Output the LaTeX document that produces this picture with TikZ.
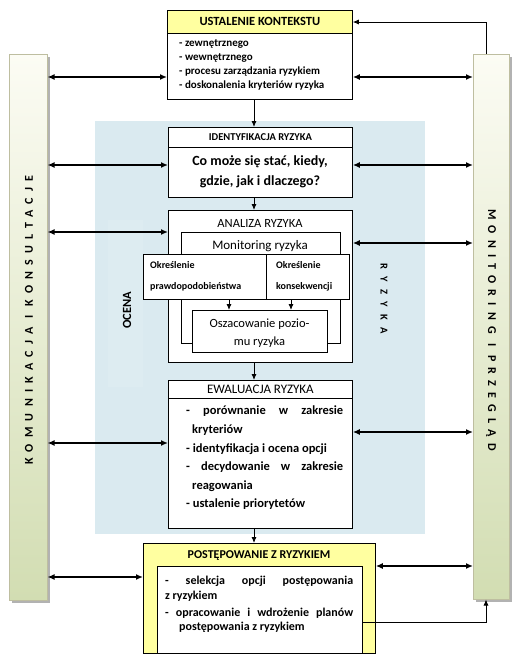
\documentclass[tikz,border=0pt]{standalone}
\usepackage{fontspec}
\setmainfont{Carlito}
\usetikzlibrary{arrows.meta,calc}
\definecolor{hdryellow}{RGB}{255,255,160}
\definecolor{zone}{RGB}{218,234,240}
\definecolor{zonelight}{RGB}{221,236,241}
\definecolor{bartop}{RGB}{252,252,244}
\definecolor{barbot}{RGB}{210,221,178}
\definecolor{barline}{RGB}{190,190,160}
\begin{document}
\begin{tikzpicture}[x=1pt,y=-1pt]
\tikzset{
 box/.style={draw=black, line width=0.8pt, fill=white, inner sep=0, anchor=north west},
 dbl/.style={line width=1.8pt, {Latex[length=7pt,width=6pt]}-{Latex[length=7pt,width=6pt]}},
 vline/.style={line width=0.9pt, -{Latex[length=6pt,width=5pt]}},
 fbline/.style={line width=0.8pt, -{Latex[length=6pt,width=5pt]}},
 bar/.style={draw=barline, line width=0.5pt, top color=bartop, bottom color=barbot, anchor=north west, inner sep=0},
 shadowbox/.style={fill=black!30, anchor=north west, inner sep=0},
 plain/.style={inner sep=0},
}
\useasboundingbox (0,0) rectangle (522,657);
% side bars
\node[shadowbox, minimum width=38pt, minimum height=546pt] (lbarsh) at (11.5,56.5) {};
\node[bar, minimum width=38pt, minimum height=546pt] (lbar) at (9,54) {};
\node[shadowbox, minimum width=36pt, minimum height=545pt] (rbarsh) at (475.5,56.5) {};
\node[bar, minimum width=36pt, minimum height=545pt] (rbar) at (473,54) {};
\node[rotate=90, plain, font=\bfseries\fontsize{12}{13}\selectfont\addfontfeature{LetterSpace=52}] (komtxt) at (29,320) {KOMUNIKACJA I KONSULTACJE};
\node[rotate=-90, plain, font=\bfseries\fontsize{12}{13}\selectfont\addfontfeature{LetterSpace=52}] (montxt) at (491,330) {MONITORING I PRZEGLĄD};
% blue zone
\node[fill=zone, anchor=north west, inner sep=0, minimum width=330pt, minimum height=413pt] (zonebox) at (95,121) {};
\node[fill=zonelight, anchor=north west, inner sep=0, minimum width=35pt, minimum height=167pt] (ocpanel) at (108,220) {};
\node[rotate=90, plain, font=\bfseries\fontsize{12.5}{14}\selectfont] (ocena) at (127,310) {OCENA};
\node[rotate=-90, plain, font=\bfseries\fontsize{10.5}{12}\selectfont\addfontfeature{LetterSpace=70}] (ryztxt) at (384,299) {RYZYKA};
% context box
\node[box, minimum width=185pt, minimum height=89pt] (ctx) at (167,10) {};
\node[box, fill=hdryellow, minimum width=185pt, minimum height=23pt, font=\bfseries\fontsize{12.5}{14}\selectfont] (ctxhd) at (167,10) {USTALENIE KONTEKSTU};
\node[plain, anchor=north west, align=left, font=\bfseries\fontsize{11}{14}\selectfont] (ctxtxt) at (179,39.5) {- zewnętrznego\\- wewnętrznego\\- procesu zarządzania ryzykiem\\- doskonalenia kryteriów ryzyka};
% identification
\node[box, minimum width=184pt, minimum height=70pt] (ident) at (168,127) {};
\node[box, minimum width=184pt, minimum height=20pt, font=\bfseries\fontsize{10.5}{12}\selectfont] (identhd) at (168,127) {IDENTYFIKACJA RYZYKA};
\node[plain, align=center, font=\bfseries\fontsize{14}{20}\selectfont] (identtxt) at (260,172) {Co może się stać, kiedy,\\gdzie, jak i dlaczego?};
% analysis
\node[box, minimum width=184pt, minimum height=152pt] (anal) at (168,210) {};
\node[plain, font=\fontsize{12.5}{14}\selectfont] (analtxt) at (260,223) {ANALIZA RYZYKA};
\node[box, minimum width=159pt, minimum height=111pt] (mon) at (181,232) {};
\node[plain, font=\fontsize{13}{15}\selectfont] (montxt2) at (260,246) {Monitoring ryzyka};
\node[box, minimum width=123pt, minimum height=45pt] (okl) at (143,254) {};
\node[box, minimum width=83pt, minimum height=45pt] (okr) at (266,254) {};
\node[plain, anchor=north west, align=left, font=\bfseries\fontsize{10}{21}\selectfont] (okltxt) at (150,261) {Określenie\\prawdopodobieństwa};
\node[plain, anchor=north west, align=left, font=\bfseries\fontsize{10}{21}\selectfont] (okrtxt) at (276,261) {Określenie\\konsekwencji};
\node[box, minimum width=135pt, minimum height=42pt] (osz) at (192,310) {};
\node[plain, align=center, font=\fontsize{12.5}{18}\selectfont] (osztxt) at (259.5,333) {Oszacowanie pozio-\\mu ryzyka};
% evaluation
\node[box, minimum width=184pt, minimum height=148pt] (ewal) at (168,380) {};
\node[box, minimum width=184pt, minimum height=18pt, font=\fontsize{13}{14}\selectfont] (ewalhd) at (168,380) {EWALUACJA RYZYKA};
\node[plain, anchor=north west, align=left, font=\bfseries\fontsize{12.5}{18.6}\selectfont] (ewaltxt) at (186,406) {\hbox to 157pt{-\hfill porównanie\hfill w\hfill zakresie}\\\hspace*{6pt}kryteriów\\- identyfikacja i ocena opcji\\\hbox to 157pt{-\hfill decydowanie\hfill w\hfill zakresie}\\\hspace*{6pt}reagowania\\- ustalenie priorytetów};
% treatment
\node[box, fill=hdryellow, minimum width=232pt, minimum height=110pt] (post) at (143,543) {};
\node[plain, font=\bfseries\fontsize{12}{14}\selectfont] (posthd) at (259,556) {POSTĘPOWANIE Z RYZYKIEM};
\node[box, minimum width=205pt, minimum height=87pt] (postin) at (157,566) {};
\node[plain, anchor=north west, align=left, font=\bfseries\fontsize{12}{14.5}\selectfont] (posttxt) at (165,576) {\hbox to 188pt{-\hfill selekcja\hfill opcji\hfill postępowania}\\z ryzykiem\\[2.5pt]\hbox to 188pt{-\hfill opracowanie\hfill i\hfill wdrożenie\hfill planów}\\\hspace*{14pt}postępowania z ryzykiem};
% helper coordinates
\coordinate (ya) at (0,77);
\coordinate (yb) at (0,165);
\coordinate (ycl) at (0,232);
\coordinate (ycr) at (0,243);
\coordinate (ydl) at (0,443);
\coordinate (ydr) at (0,432);
\coordinate (yel) at (0,577);
\coordinate (yer) at (0,566);
\coordinate (ytop) at (0,22);
\coordinate (ybot) at (0,622);
\coordinate (xr) at (486,0);
\coordinate (xv) at (254,0);
\coordinate (xa) at (229,0);
\coordinate (xb) at (291,0);
% left double arrows
\draw[dbl] (lbar.east |- ya) -- (ctx.west |- ya);
\draw[dbl] (lbar.east |- yb) -- (ident.west |- yb);
\draw[dbl] (lbar.east |- ycl) -- (anal.west |- ycl);
\draw[dbl] (lbar.east |- ydl) -- (ewal.west |- ydl);
\draw[dbl] (lbar.east |- yel) -- (post.west |- yel);
% right double arrows
\draw[dbl] (rbar.west |- ya) -- (ctx.east |- ya);
\draw[dbl] (rbar.west |- yb) -- (ident.east |- yb);
\draw[dbl] (rbar.west |- ycr) -- (anal.east |- ycr);
\draw[dbl] (rbar.west |- ydr) -- (ewal.east |- ydr);
\draw[dbl] (rbar.west |- yer) -- (post.east |- yer);
% feedback lines
\draw[fbline] (rbar.north -| xr) |- (ctxhd.east |- ytop);
\draw[fbline] (postin.east |- ybot) -| (rbar.south -| xr);
% vertical flow
\draw[vline] (ctx.south -| xv) -- (ident.north -| xv);
\draw[vline] (ident.south -| xv) -- (anal.north -| xv);
\draw[vline] (anal.south -| xv) -- (ewal.north -| xv);
\draw[vline] (ewal.south -| xv) -- (post.north -| xv);
\draw[vline] (okl.south -| xa) -- (osz.north -| xa);
\draw[vline] (okr.south -| xb) -- (osz.north -| xb);
\end{tikzpicture}
\end{document}
